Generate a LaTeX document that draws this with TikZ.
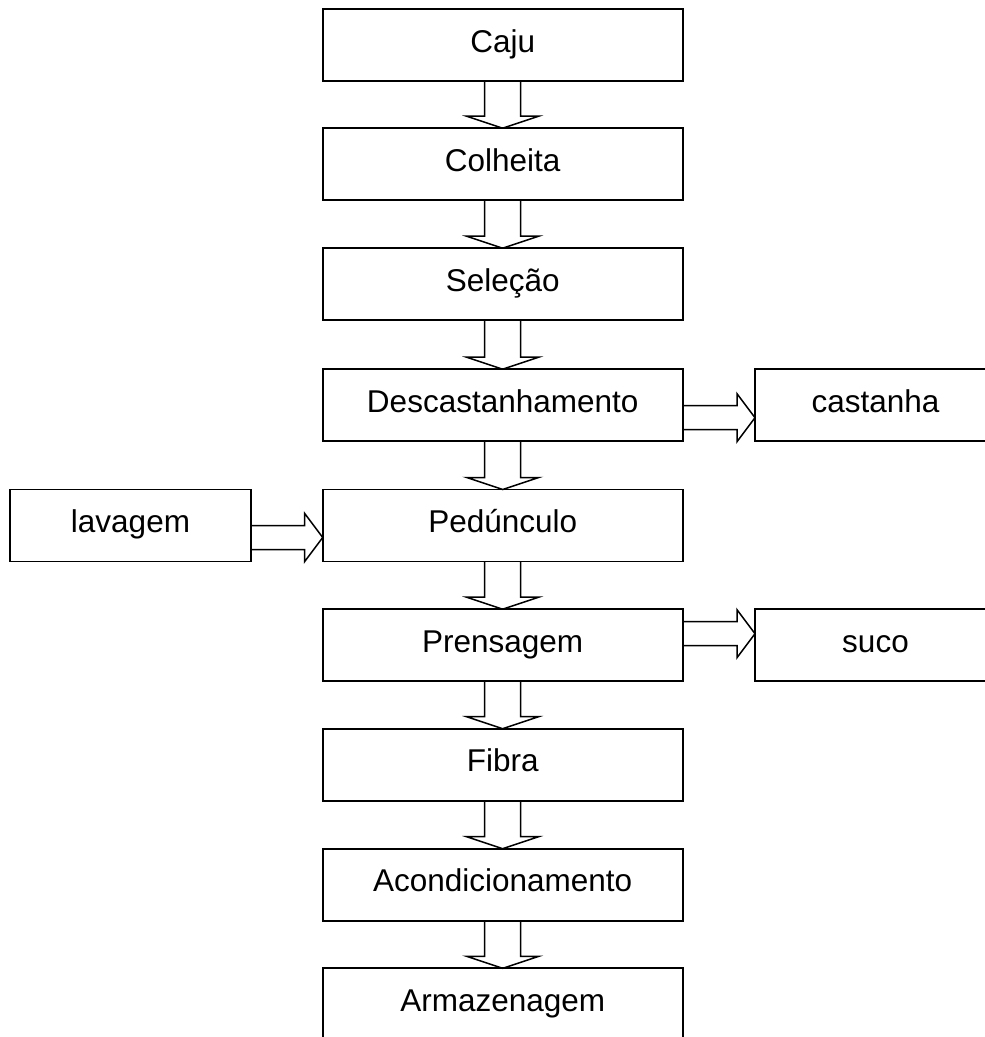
\documentclass[tikz,border=0pt]{standalone}
\usepackage{fontspec}
\setmainfont{Liberation Sans}
\usetikzlibrary{calc}
\tikzset{
  box/.style={draw, line width=1.8pt, rectangle, inner sep=0pt, outer sep=0pt,
    minimum width=#1, minimum height=72pt, text height=43pt, text depth=29pt,
    font=\fontsize{31.5}{36}\selectfont},
  box/.default=360pt,
  blockarrow/.style={draw, line width=1.5pt, line join=miter}
}
\newcommand{\downblock}[2]{%
  \draw[blockarrow] ($(#1.south)+(-18,0)$) -- ($(#2.north)+(-18,-12)$) -- ($(#2.north)+(-36,-12)$)
    -- (#2.north) -- ($(#2.north)+(36,-12)$) -- ($(#2.north)+(18,-12)$) -- ($(#1.south)+(18,0)$);}
\newcommand{\rightblock}[3]{%
  \draw[blockarrow] ($(#1.east)+(0,#3-12)$) -- ($(#2.west)+(-18,#3-12)$) -- ($(#2.west)+(-18,#3-24)$)
    -- ($(#2.west)+(0,#3)$) -- ($(#2.west)+(-18,#3+24)$) -- ($(#2.west)+(-18,#3+12)$) -- ($(#1.east)+(0,#3+12)$);}
\begin{document}
\begin{tikzpicture}[x=1pt,y=-1pt]
\clip (0,0) rectangle (985,1037);
\fill[white] (0,0) rectangle (985,1037);
\node[box] (caju) at (502.7,45.2) {Caju};
\node[box] (colheita) at (502.7,164.2) {Colheita};
\node[box] (selecao) at (502.7,284.2) {Seleção};
\node[box] (desc) at (502.7,405.2) {Descastanhamento};
\node[box] (ped) at (502.7,525.5) {Pedúnculo};
\node[box] (prens) at (502.7,645.2) {Prensagem};
\node[box] (fibra) at (502.7,764.7) {Fibra};
\node[box] (acond) at (502.7,884.7) {Acondicionamento};
\node[box] (armaz) at (502.7,1004.3) {Armazenagem};
\node[box=241pt] (lav) at (130.5,525.5) {lavagem};
\node[box=241pt] (cast) at (875.5,405.2) {castanha};
\node[box=241pt] (suco) at (875.5,645.2) {suco};
\downblock{caju}{colheita}
\downblock{colheita}{selecao}
\downblock{selecao}{desc}
\downblock{desc}{ped}
\downblock{ped}{prens}
\downblock{prens}{fibra}
\downblock{fibra}{acond}
\downblock{acond}{armaz}
\rightblock{desc}{cast}{12.5}
\rightblock{lav}{ped}{12}
\rightblock{prens}{suco}{-11.5}
\end{tikzpicture}
\end{document}
